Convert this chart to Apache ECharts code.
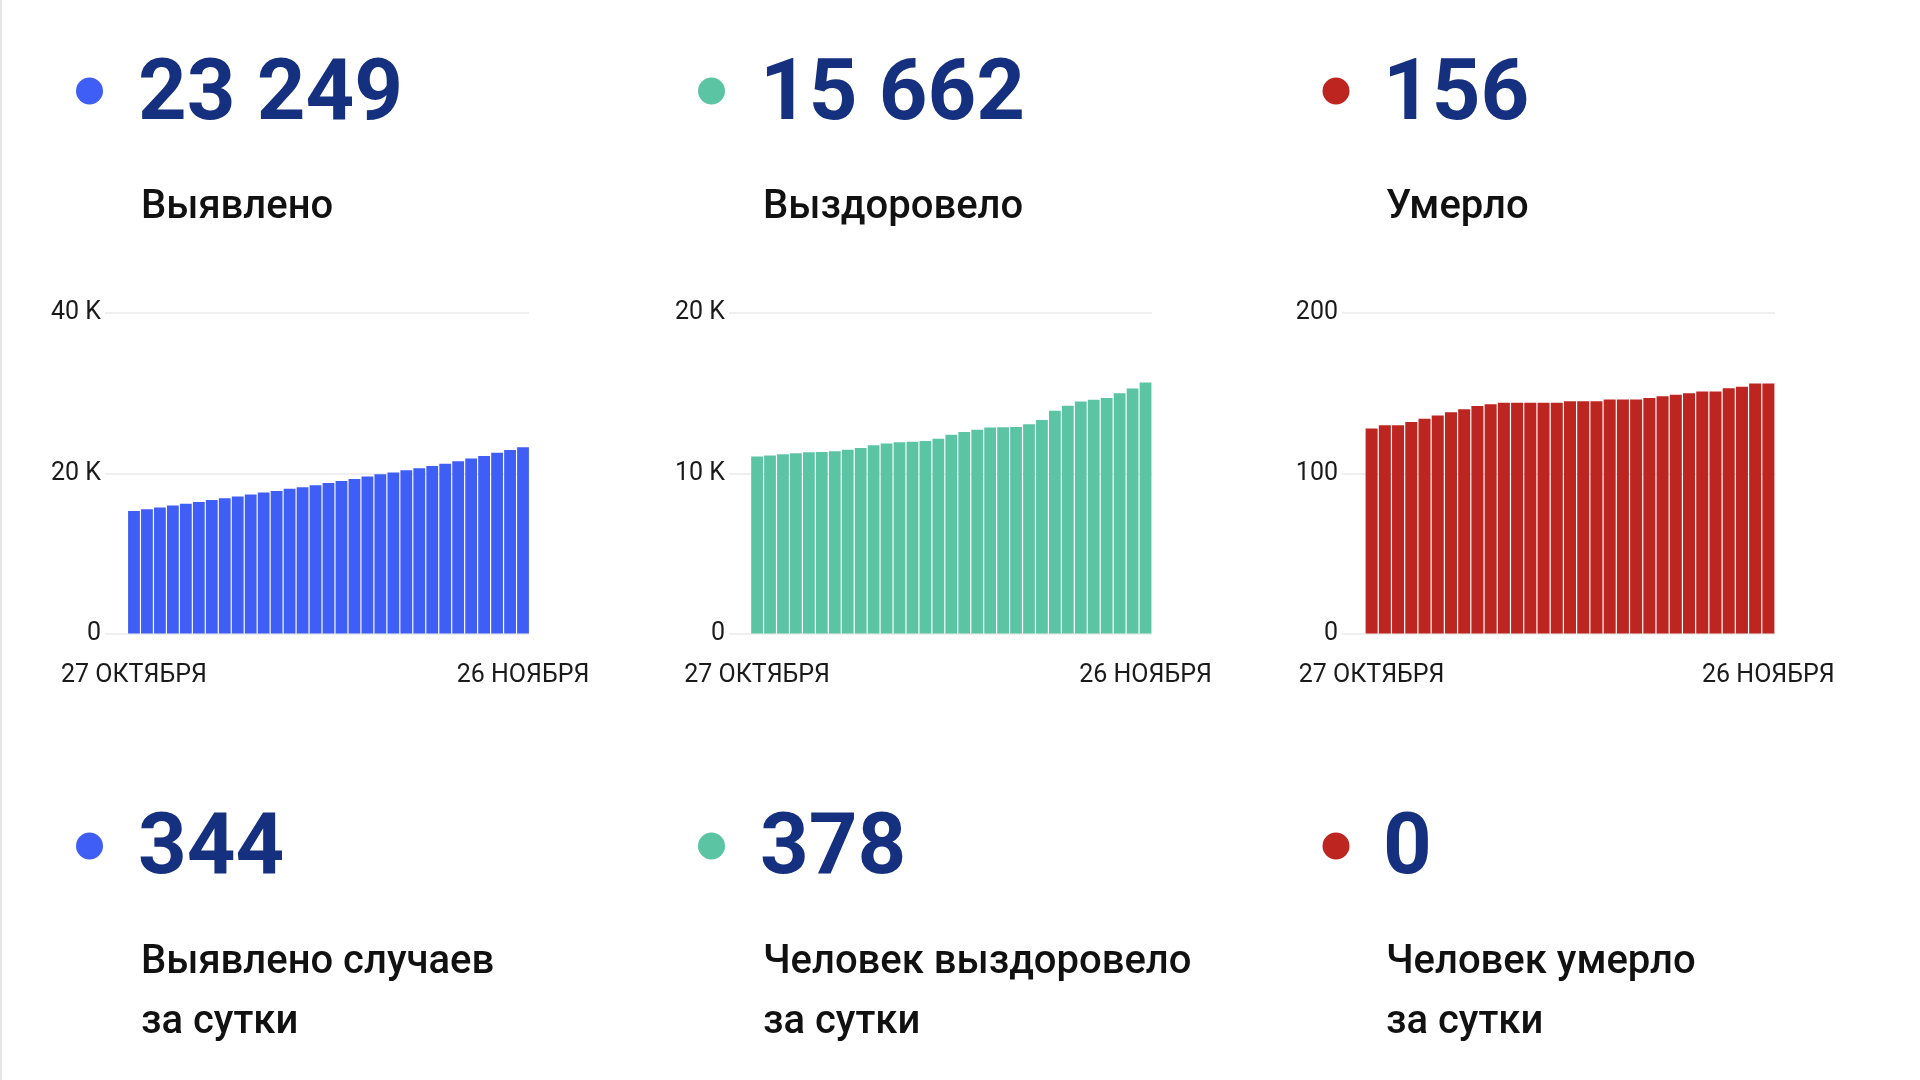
<!DOCTYPE html>
<html>
<head>
<meta charset="utf-8">
<script src="https://cdn.jsdelivr.net/npm/echarts@6/dist/echarts.min.js"></script>
<style>
html,body{margin:0;padding:0;background:#fff;}
#c{width:1920px;height:1080px;}
</style>
</head>
<body>
<div id="c"></div>
<script>
// ---- data ----
const dates = ['27 ОКТЯБРЯ','28 ОКТЯБРЯ','29 ОКТЯБРЯ','30 ОКТЯБРЯ','31 ОКТЯБРЯ',
  '1 НОЯБРЯ','2 НОЯБРЯ','3 НОЯБРЯ','4 НОЯБРЯ','5 НОЯБРЯ','6 НОЯБРЯ','7 НОЯБРЯ','8 НОЯБРЯ',
  '9 НОЯБРЯ','10 НОЯБРЯ','11 НОЯБРЯ','12 НОЯБРЯ','13 НОЯБРЯ','14 НОЯБРЯ','15 НОЯБРЯ','16 НОЯБРЯ',
  '17 НОЯБРЯ','18 НОЯБРЯ','19 НОЯБРЯ','20 НОЯБРЯ','21 НОЯБРЯ','22 НОЯБРЯ','23 НОЯБРЯ','24 НОЯБРЯ',
  '25 НОЯБРЯ','26 НОЯБРЯ'];

const casesTotal = [15300,15510,15720,15970,16180,16420,16670,16880,17090,17340,17590,17800,
  18050,18250,18500,18790,19040,19290,19580,19870,20080,20370,20620,20910,21200,21500,21830,
  22160,22560,22905,23249];
const recoveredTotal = [11040,11100,11190,11250,11310,11320,11380,11460,11580,11750,11850,11940,
  11960,12020,12150,12400,12580,12710,12850,12870,12880,13060,13330,13900,14210,14480,14580,
  14690,15000,15284,15662];
const deathsTotal = [128,130,130,132,134,136,138,140,142,143,144,144,144,144,144,145,145,145,
  146,146,146,147,148,149,150,151,151,153,154,156,156];

const yTicksCases = ['0','20 K','40 K'];
const yTicksRecovered = ['0','10 K','20 K'];
const yTicksDeaths = ['0','100','200'];

const bigNumbers = ['23 249','15 662','156'];
const bigLabels = ['Выявлено','Выздоровело','Умерло'];
const dayNumbers = ['344','378','0'];
const dayLabels1 = ['Выявлено случаев','Человек выздоровело','Человек умерло'];
const dayLabels2 = ['за сутки','за сутки','за сутки'];

const colors = ['#3f5ef5','#5bc5a3','#bd2521'];
const navy = '#15307f';

// ---- layout ----
const colText = [141, 763, 1386];
const colDot = [89.5, 711.5, 1336];
const plotTop = 313, plotH = 320.5;
const gridA = [[105,424],[729,423],[1342,433]];
const gridB = [[127.5,402],[750.6,401.4],[1365,410]];
const yMax = [40000,20000,200];
const yInt = [20000,10000,100];
const yTicks = [yTicksCases, yTicksRecovered, yTicksDeaths];
const seriesData = [casesTotal, recoveredTotal, deathsTotal];

const font = 'Roboto, "Noto Sans", sans-serif';
const grids=[], xAxes=[], yAxes=[], series=[];
for (let i=0;i<3;i++){
  grids.push({left:gridA[i][0], top:plotTop, width:gridA[i][1], height:plotH});
  grids.push({left:gridB[i][0], top:plotTop, width:gridB[i][1], height:plotH});
  const ga = 2*i, gb = 2*i+1;
  xAxes.push({gridIndex:ga, type:'value', min:0, max:1, show:false});
  xAxes.push({gridIndex:gb, type:'category', data:dates, boundaryGap:true,
    axisLine:{show:false}, axisTick:{show:false},
    axisLabel:{interval:(idx)=> idx===0 || idx===dates.length-1, margin:30,
      color:'#1a1a1a', fontFamily:font, fontSize:25, showMinLabel:true, showMaxLabel:true}});
  const tk = yTicks[i], iv = yInt[i];
  yAxes.push({gridIndex:ga, type:'value', min:0, max:yMax[i], interval:iv,
    axisLine:{show:false}, axisTick:{show:false},
    axisLabel:{margin:4, padding:[3,0,0,0], color:'#1a1a1a', fontFamily:font, fontSize:25,
      formatter:(v)=> tk[Math.round(v/iv)]},
    splitLine:{show:true, lineStyle:{color:'#efefef', width:2}}});
  yAxes.push({gridIndex:gb, type:'value', min:0, max:yMax[i], interval:iv, show:false,
    splitLine:{show:false}});
  series.push({type:'bar', xAxisIndex:gb, yAxisIndex:gb, data:seriesData[i],
    barCategoryGap:'9%', itemStyle:{color:colors[i]}, silent:true, animation:false});
}

const graphics = [
  {type:'line', shape:{x1:1,y1:0,x2:1,y2:1080}, style:{stroke:'#e6e6e6', lineWidth:2}}
];
function txt(x, y, s, f, c){
  return {type:'text', x:x, y:y, style:{text:s, fill:c, font:f,
    align:'left', verticalAlign:'middle', textAlign:'left', textVerticalAlign:'middle'}};
}
for (let i=0;i<3;i++){
  graphics.push({type:'circle', shape:{cx:colDot[i], cy:91, r:13.5}, style:{fill:colors[i]}});
  graphics.push(txt(colText[i]-3, 98, bigNumbers[i], 'bold 85px '+font, navy));
  graphics.push(txt(colText[i], 208, bigLabels[i], '500 40px '+font, '#111'));
  graphics.push({type:'circle', shape:{cx:colDot[i], cy:846, r:13.5}, style:{fill:colors[i]}});
  graphics.push(txt(colText[i]-3, 852, dayNumbers[i], 'bold 85px '+font, navy));
  graphics.push(txt(colText[i], 963, dayLabels1[i], '500 40px '+font, '#111'));
  graphics.push(txt(colText[i], 1023, dayLabels2[i], '500 40px '+font, '#111'));
}

const chart = echarts.init(document.getElementById('c'), null, {renderer:'canvas'});
chart.setOption({
  animation:false,
  backgroundColor:'#ffffff',
  grid:grids, xAxis:xAxes, yAxis:yAxes, series:series,
  graphic:{elements:graphics}
});
</script>
</body>
</html>
